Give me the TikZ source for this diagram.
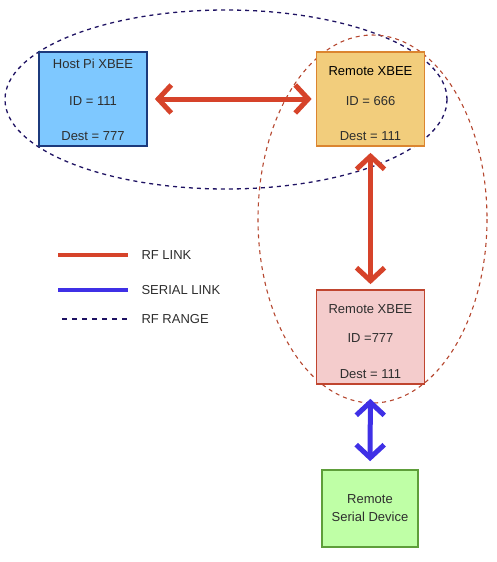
\documentclass[tikz,border=0pt]{standalone}
\usepackage{fontspec}
\setmainfont{Liberation Sans}
\usetikzlibrary{positioning,arrows.meta}
\usepackage{xcolor}
\definecolor{rfred}{HTML}{D6432A}
\definecolor{serialblue}{HTML}{3F30E6}
\definecolor{rangenavy}{HTML}{1E1262}
\definecolor{rangered}{HTML}{B5462E}
\definecolor{hostfill}{HTML}{7EC8FF}
\definecolor{hostdraw}{HTML}{1C3A7C}
\definecolor{remfill}{HTML}{F2CD7C}
\definecolor{remdraw}{HTML}{DB8530}
\definecolor{midfill}{HTML}{F4CCCC}
\definecolor{middraw}{HTML}{C0452F}
\definecolor{devfill}{HTML}{BFFFA6}
\definecolor{devdraw}{HTML}{5E9E3A}
\definecolor{boxtext}{HTML}{2E2E2E}

\begin{document}
\begin{tikzpicture}[x=1pt, y=-1pt,
    box/.style={draw, line width=1.7pt, minimum width=108pt, minimum height=94pt, align=center, inner sep=0pt, text=boxtext, font=\fontsize{13}{15}\selectfont},
    rfarrow/.style={{Straight Barb[length=13pt,width=28pt]}-{Straight Barb[length=13pt,width=28pt]}, line width=5pt, rfred},
    serialarrow/.style={{Straight Barb[length=13pt,width=28pt]}-{Straight Barb[length=13pt,width=28pt]}, line width=5pt, serialblue},
    rfrange/.style={dash pattern=on 4pt off 4pt, line width=1.3pt},
    legend/.style={anchor=west, text=boxtext, font=\fontsize{13}{15}\selectfont}
]
\useasboundingbox (0,0) rectangle (496,562);

% RF ranges
\draw[rfrange, rangenavy] (226,99.5) ellipse [x radius=221, y radius=89.5];
\draw[rfrange, rangered, line width=1.1pt] (372.5,219) ellipse [x radius=114.5, y radius=184];

% XBEE modules
\node[box, fill=hostfill, draw=hostdraw] (host) at (93,99) {\rule{0pt}{11pt}Host Pi XBEE\\[22pt]ID = 111\\[20pt]Dest = 777};
\node[box, fill=remfill, draw=remdraw] (remote) at (370.5,99) {\rule{0pt}{19pt}\textcolor{black}{Remote XBEE}\\[15pt]ID = 666\\[20pt]Dest = 111};
\node[box, fill=midfill, draw=middraw] (remotemid) at (370.5,337) {\rule{0pt}{19pt}Remote XBEE\\[14pt]ID =777\\[21pt]Dest = 111};

% Serial device
\node[box, fill=devfill, draw=devdraw, minimum width=96pt, minimum height=77pt] (serialdev) at (370,508.5) {Remote\\[3pt]Serial Device};

% Links
\draw[rfarrow, shorten <=7pt, shorten >=4pt] (host) -- (remote);
\draw[rfarrow, shorten <=6pt, shorten >=5pt] (remote) -- (remotemid);
\draw[serialarrow, shorten <=14pt, shorten >=8pt] (remotemid) -- (serialdev);

% Legend
\node[legend] (rflab) at (138,255) {RF LINK};
\node[legend] (seriallab) at (138,290) {SERIAL LINK};
\node[legend] (rangelab) at (138,319) {RF RANGE};
\coordinate (rfa) at (58,255);
\coordinate (rfb) at (128,255);
\coordinate (sera) at (58,290);
\coordinate (serb) at (128,290);
\coordinate (rga) at (62,319);
\coordinate (rgb) at (128,319);
\draw[rfred, line width=4pt] (rfa) -- (rfb);
\draw[serialblue, line width=4pt] (sera) -- (serb);
\draw[rangenavy, line width=1.3pt, dash pattern=on 5pt off 5pt] (rga) -- (rgb);
\end{tikzpicture}
\end{document}
